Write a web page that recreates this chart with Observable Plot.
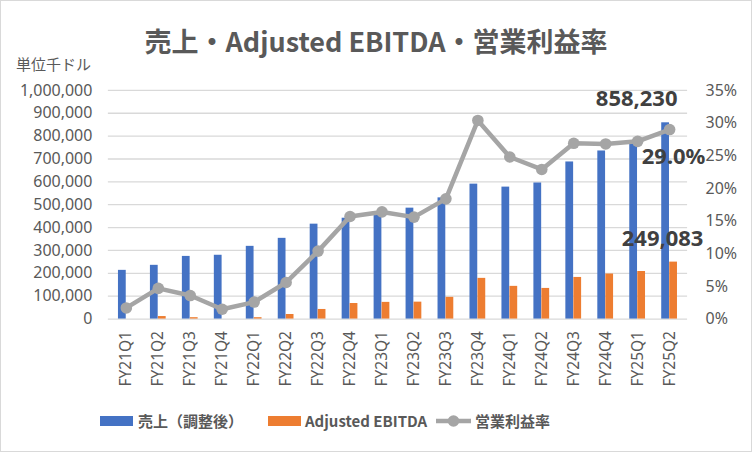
<!DOCTYPE html>
<html>
<head>
<meta charset="utf-8">
<script src="https://cdn.jsdelivr.net/npm/d3@7"></script>
<script src="https://cdn.jsdelivr.net/npm/@observablehq/plot@0.6"></script>
<style>
  html, body { margin: 0; padding: 0; background: #fff; }
  #chart { position: relative; width: 752px; height: 452px; box-sizing: border-box; border: 1px solid #d9d9d9; overflow: hidden; font-family: "Noto Sans", "Noto Sans CJK JP", sans-serif; color: #595959; }
  #title { position: absolute; left: 0; width: 750px; top: 24px; text-align: center; font-family: "Noto Sans CJK JP", sans-serif; font-weight: bold; font-size: 27px; line-height: 32px; color: #595959; white-space: nowrap; }
  #unit { position: absolute; left: 15px; top: 53px; font-family: "Noto Sans CJK JP", sans-serif; font-size: 15px; line-height: 20px; color: #595959; }
  #plot { position: absolute; left: -1px; top: -1px; }
  .lg { position: absolute; top: 410px; height: 20px; line-height: 20px; font-size: 15px; white-space: nowrap; color: #595959; font-family: "Noto Sans CJK JP", sans-serif; }
  .sw { position: absolute; }
</style>
</head>
<body>
<div id="chart">
  <div id="plot"></div>
  <div id="title">売上・Adjusted EBITDA・営業利益率</div>
  <div id="unit">単位千ドル</div>
  <div id="legend"></div>
</div>
<script>
const categories = ["FY21Q1","FY21Q2","FY21Q3","FY21Q4","FY22Q1","FY22Q2","FY22Q3","FY22Q4","FY23Q1","FY23Q2","FY23Q3","FY23Q4","FY24Q1","FY24Q2","FY24Q3","FY24Q4","FY25Q1","FY25Q2"];
const revenue = [213000, 235000, 274000, 279000, 318000, 353000, 415000, 441000, 465000, 485000, 530000, 590000, 577000, 595000, 687000, 735000, 775000, 858230];
const ebitda = [0, 11000, 6000, 0, 6000, 20000, 42000, 68000, 73000, 74000, 95000, 178000, 143000, 134000, 182000, 197000, 208000, 249083];
const opMargin = [1.7, 4.7, 3.6, 1.5, 2.6, 5.6, 10.4, 15.7, 16.4, 15.6, 18.4, 30.4, 24.8, 22.9, 26.9, 26.8, 27.2, 29.0];
const leftTicks = [0, 100000, 200000, 300000, 400000, 500000, 600000, 700000, 800000, 900000, 1000000];
const rightTicks = [0, 5, 10, 15, 20, 25, 30, 35];
const seriesNames = ["売上（調整後）", "Adjusted EBITDA", "営業利益率"];
const colors = ["#4472C4", "#ED7D31", "#A5A5A5"];

const leftMax = 1000000, rightMax = 35;
const toLeft = p => p / rightMax * leftMax;

const rows = categories.map((c, i) => ({cat: c, rev: revenue[i], ebitda: ebitda[i], pct: opMargin[i], pctY: toLeft(opMargin[i])}));
const last = rows[rows.length - 1];

const W = 752, H = 402, mL = 108, mR = 64;
const band = (W - mL - mR) / categories.length;
const half = band / 2, barW = 8;

const plot = Plot.plot({
  width: W, height: H,
  marginTop: 90, marginBottom: 83, marginLeft: mL, marginRight: mR,
  style: {fontFamily: "'Noto Sans', 'Noto Sans CJK JP', sans-serif", fontSize: "16px", color: "#595959", background: "transparent", overflow: "visible"},
  x: {domain: categories, padding: 0},
  y: {domain: [0, leftMax]},
  marks: [
    Plot.ruleY(leftTicks, {stroke: "#d9d9d9", strokeWidth: 1.3}),
    Plot.barY(rows, {x: "cat", y: "rev", fill: colors[0], insetLeft: half - barW, insetRight: half}),
    Plot.barY(rows, {x: "cat", y: "ebitda", fill: colors[1], insetLeft: half, insetRight: half - barW}),
    Plot.lineY(rows, {x: "cat", y: "pctY", stroke: colors[2], strokeWidth: 4.5, strokeLinejoin: "round"}),
    Plot.dot(rows, {x: "cat", y: "pctY", fill: colors[2], r: 5.8}),
    Plot.axisY({ticks: leftTicks, tickSize: 0, tickPadding: 16, tickFormat: d3.format(","), label: null}),
    Plot.axisY({anchor: "right", ticks: rightTicks.map(toLeft), tickSize: 0, tickPadding: 18, tickFormat: d => Math.round(d / leftMax * rightMax) + "%", label: null}),
    Plot.axisX({tickRotate: -90, tickSize: 0, tickPadding: 12, fontSize: 15.5, label: null}),
    Plot.text([last], {x: "cat", y: "rev", text: d => d3.format(",")(d.rev), dx: -33, dy: -24, fontSize: 22, fontWeight: "bold", fill: "#404040"}),
    Plot.text([last], {x: "cat", y: "pctY", text: d => d.pct.toFixed(1) + "%", dx: 4, dy: 27, fontSize: 22, fontWeight: "bold", fill: "#404040"}),
    Plot.text([last], {x: "cat", y: "ebitda", text: d => d3.format(",")(d.ebitda), dx: -7, dy: -23, fontSize: 22, fontWeight: "bold", fill: "#404040"})
  ]
});
document.getElementById("plot").appendChild(plot);

// legend
const lg = document.getElementById("legend");
const items = [
  {name: seriesNames[0], color: colors[0], type: "rect", sx: 99, tx: 137},
  {name: seriesNames[1], color: colors[1], type: "rect", sx: 267, tx: 304},
  {name: seriesNames[2], color: colors[2], type: "line", sx: 435, tx: 474}
];
items.forEach(it => {
  const sw = document.createElementNS("http://www.w3.org/2000/svg", "svg");
  sw.setAttribute("class", "sw");
  sw.setAttribute("width", 36); sw.setAttribute("height", 14);
  sw.style.left = it.sx + "px"; sw.style.top = "413px";
  if (it.type === "rect") {
    sw.innerHTML = `<rect x="0" y="2" width="33" height="10" fill="${it.color}"/>`;
  } else {
    sw.innerHTML = `<line x1="0" y1="7" x2="35" y2="7" stroke="${it.color}" stroke-width="4.5"/><circle cx="17.5" cy="7" r="5.8" fill="${it.color}"/>`;
  }
  lg.appendChild(sw);
  const t = document.createElement("div");
  t.className = "lg";
  t.style.left = it.tx + "px";
  t.style.fontWeight = "bold";
  t.textContent = it.name;
  lg.appendChild(t);
});
</script>
</body>
</html>
